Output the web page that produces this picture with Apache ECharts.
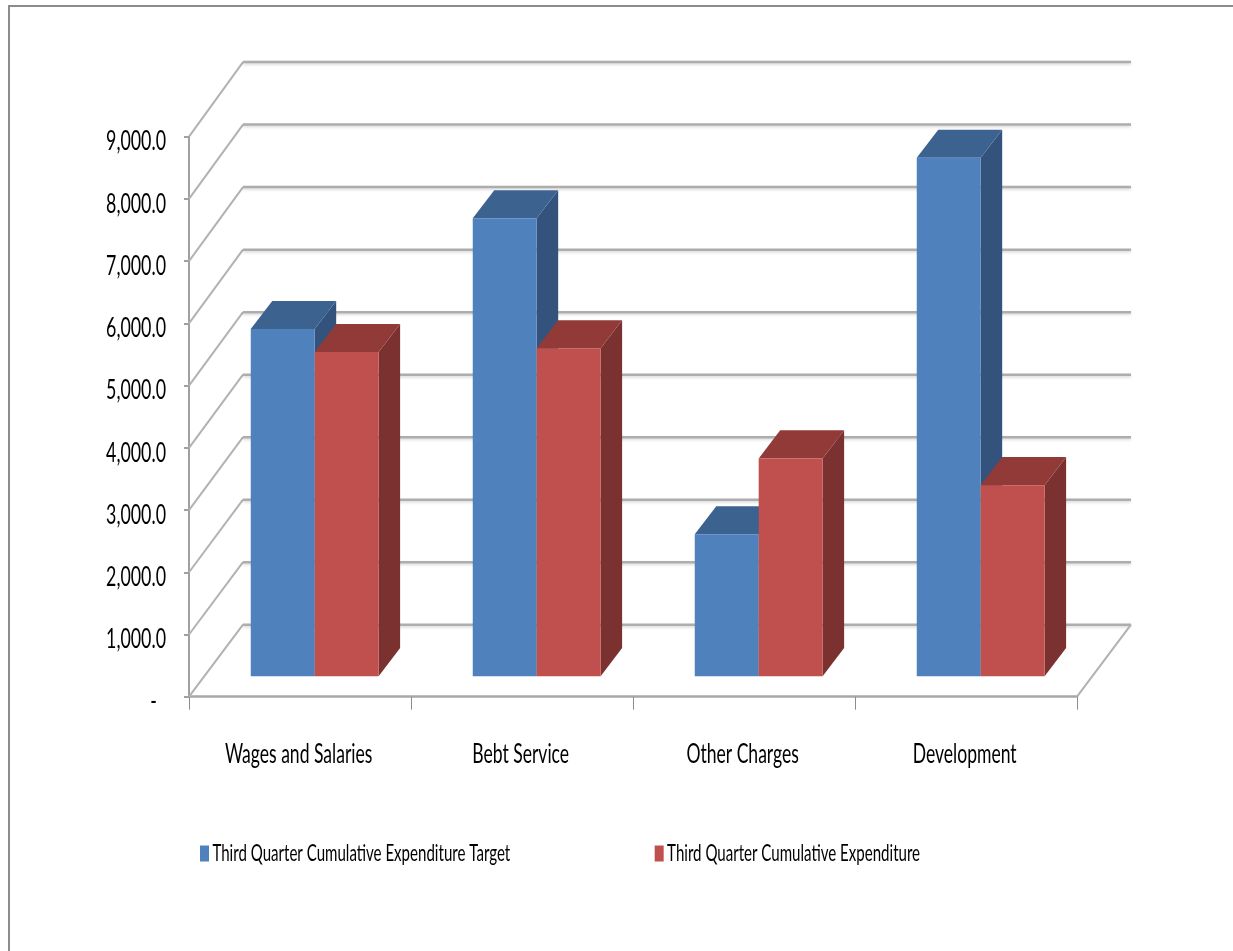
<!DOCTYPE html>
<html>
<head>
<meta charset="utf-8">
<title>Third Quarter Cumulative Expenditure</title>
<style>html,body{margin:0;padding:0;background:#fff}#chart{width:1233px;height:951px}</style>
<script src="https://cdn.jsdelivr.net/npm/echarts@6/dist/echarts.min.js"></script>
</head>
<body>
<div id="chart"></div>
<script>
const categories = ['Wages and Salaries', 'Bebt Service', 'Other Charges', 'Development'];
const targetName = 'Third Quarter Cumulative Expenditure Target';
const actualName = 'Third Quarter Cumulative Expenditure';
const targetValues = [5580, 7360, 2280, 8330];
const actualValues = [5210, 5270, 3500, 3070];
const gridValues = [0, 1000, 2000, 3000, 4000, 5000, 6000, 7000, 8000, 9000];

// Oblique projection of the chart's depth axis, in pixels
const DEPTH_X = 54, DEPTH_Y = -72, BACK_RISE = 2.6;
const BAR_FRONT_X = 0.272, BAR_FRONT_Y = 0.285, BAR_BACK_X = 0.67, BAR_BACK_Y = 0.675, BAR_BAND = 0.288;
const FONT = 'Lato, "Open Sans", sans-serif';
// Horizontal squeeze and baseline nudge for the tall, condensed lettering, keyed by font size
const AXIS_SIZE = 27, CATEGORY_SIZE = 26, LEGEND_SIZE = 23;
const LETTERING = {
  [AXIS_SIZE]: { squeeze: 0.66, nudge: 5 },
  [CATEGORY_SIZE]: { squeeze: 0.675, nudge: 0 },
  [LEGEND_SIZE]: { squeeze: 0.655, nudge: 0 }
};

function poly(points, fill) {
  return { type: 'polygon', shape: { points }, style: { fill, stroke: null } };
}

// Box with front, top and side faces; shift -1 sits left of the band centre
function boxRenderer(shift, front, top, side) {
  return function (params, api) {
    const band = api.size([1, 0])[0];
    const w = band * BAR_BAND;
    const topPt = api.coord([api.value(0), api.value(1)]);
    const basePt = api.coord([api.value(0), 0]);
    const fx = DEPTH_X * BAR_FRONT_X, fy = DEPTH_Y * BAR_FRONT_Y;
    const bx = DEPTH_X * BAR_BACK_X - fx, by = DEPTH_Y * BAR_BACK_Y - fy;
    const x0 = topPt[0] + fx + shift * w, x1 = x0 + w;
    const yt = topPt[1] + fy, yb = basePt[1] + fy;
    return {
      type: 'group',
      children: [
        poly([[x1, yt], [x1 + bx, yt + by], [x1 + bx, yb + by], [x1, yb]], side),
        poly([[x0, yt], [x0 + bx, yt + by], [x1 + bx, yt + by], [x1, yt]], top),
        poly([[x0, yt], [x1, yt], [x1, yb], [x0, yb]], front)
      ]
    };
  };
}

// One gridline per tick: across the side wall, then along the back wall
function wallRenderer(params, api) {
  const cs = params.coordSys;
  const v = api.value(0);
  const y = api.coord([0, v])[1];
  const backY = y + DEPTH_Y - BACK_RISE * v / 9000;
  const left = cs.x, right = cs.x + cs.width;
  const diagonal = { fill: null, stroke: '#b2b2b2', lineWidth: 2 };
  const children = [
    { type: 'polyline', shape: { points: [[left, y], [left + DEPTH_X, backY]] }, style: diagonal },
    { type: 'polyline', shape: { points: [[left + DEPTH_X, backY], [right + DEPTH_X, backY]] },
      style: { fill: null, stroke: '#adadad', lineWidth: 2.5,
        shadowColor: 'rgba(0,0,0,0.16)', shadowBlur: 3, shadowOffsetY: 1.5 } }
  ];
  if (v === 0) {
    children.push({ type: 'polyline', shape: { points: [[right, y], [right + DEPTH_X, backY]] }, style: diagonal });
  }
  return { type: 'group', children };
}

const chart = echarts.init(document.getElementById('chart'), null, { renderer: 'canvas' });
chart.setOption({
  animation: false,
  backgroundColor: '#ffffff',
  graphic: [{
    type: 'rect',
    shape: { x: 9, y: 6, width: 1300, height: 1000 },
    style: { fill: null, stroke: '#8c8c8c', lineWidth: 2 },
    silent: true
  }],
  grid: { left: 189, top: 136.7, width: 888, height: 560 },
  legend: {
    left: 200, top: 842, padding: 0,
    itemWidth: 9, itemHeight: 16, itemGap: -19,
    selectedMode: false,
    textStyle: { fontFamily: FONT, fontSize: LEGEND_SIZE, color: '#000', padding: [5, 0, 0, 5] },
    data: [
      { name: targetName, icon: 'rect', itemStyle: { color: '#4F81BD' } },
      { name: actualName, icon: 'rect', itemStyle: { color: '#C0504D' } }
    ]
  },
  xAxis: {
    type: 'category',
    data: categories,
    axisLine: { lineStyle: { color: '#a8a8a8', width: 2.5 } },
    axisTick: { show: true, length: 13, lineStyle: { color: '#8c8c8c', width: 1 } },
    axisLabel: { fontFamily: FONT, fontSize: CATEGORY_SIZE, color: '#000', margin: 45, interval: 0,
      padding: [0, 4, 0, 0] }
  },
  yAxis: {
    type: 'value', min: 0, max: 9000, interval: 1000,
    splitLine: { show: false },
    axisLine: { show: true, lineStyle: { color: '#a0a0a0', width: 2 } },
    axisTick: { show: true, length: 5, lineStyle: { color: '#a0a0a0', width: 2 } },
    axisLabel: {
      fontFamily: FONT, fontSize: AXIS_SIZE, color: '#000', margin: 23,
      formatter: v => v === 0 ? '-  ' : v.toLocaleString('en-US', { minimumFractionDigits: 1 })
    }
  },
  series: [
    { type: 'custom', name: 'walls', data: gridValues.map(v => [v]), renderItem: wallRenderer,
      encode: { y: 0 }, silent: true, z: 1 },
    { type: 'custom', name: targetName, itemStyle: { color: '#4F81BD' },
      data: targetValues.map((v, i) => [i, v]), encode: { x: 0, y: 1 },
      renderItem: boxRenderer(-1, '#4F81BD', '#3C6290', '#33537C'), z: 2 },
    { type: 'custom', name: actualName, itemStyle: { color: '#C0504D' },
      data: actualValues.map((v, i) => [i, v]), encode: { x: 0, y: 1 },
      renderItem: boxRenderer(0, '#C0504D', '#923A38', '#7A3130'), z: 3 }
  ]
});

// Narrow every axis and legend label around its own anchor point
const zr = chart.getZr();
zr.storage.traverse(el => {
  if (el.type !== 'text' || !el.style) return;
  const size = /(\d+)px/.exec(el.style.font || '');
  const look = size && LETTERING[size[1]];
  if (look) {
    el.scaleX = look.squeeze;
    el.y += look.nudge;
    el.dirty();
  }
});
zr.refreshImmediately();
</script>
</body>
</html>
